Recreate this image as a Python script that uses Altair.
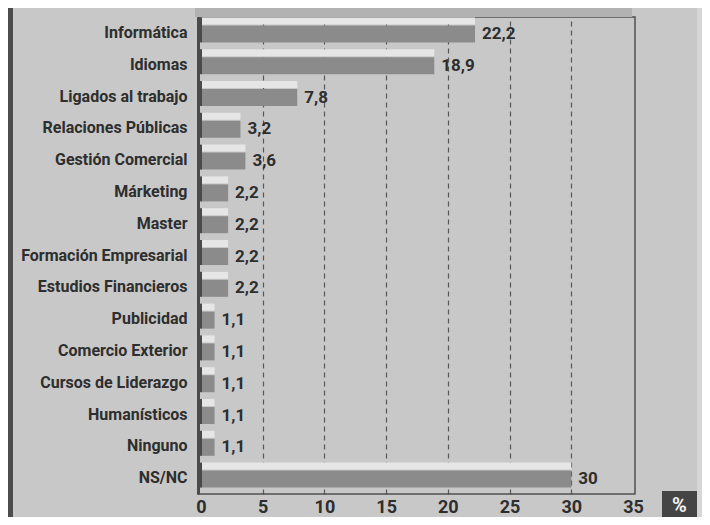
import altair as alt
import pandas as pd

categories = ["Informática", "Idiomas", "Ligados al trabajo", "Relaciones Públicas",
              "Gestión Comercial", "Márketing", "Master", "Formación Empresarial",
              "Estudios Financieros", "Publicidad", "Comercio Exterior",
              "Cursos de Liderazgo", "Humanísticos", "Ninguno", "NS/NC"]
values = [22.2, 18.9, 7.8, 3.2, 3.6, 2.2, 2.2, 2.2, 2.2, 1.1, 1.1, 1.1, 1.1, 1.1, 30]
x_ticks = [0, 5, 10, 15, 20, 25, 30, 35]

labels = [(str(int(v)) if float(v).is_integer() else str(v)).replace(".", ",") for v in values]
df = pd.DataFrame({"cat": categories, "v": values, "lab": labels})
one = pd.DataFrame({"a": [0]})

FONT = "Roboto, Liberation Sans, sans-serif"
BG = "#c8c8c8"
DARK = "#2e2e2e"

W, H = 437, 477
TOP, BOTTOM = 9, 23

xscale = alt.Scale(domain=[-0.24, 35.16], nice=False, zero=False)
yscale = alt.Scale(paddingInner=0, paddingOuter=0)

base = alt.Chart(df)

y_enc = alt.Y("cat:N", sort=categories, scale=yscale,
              axis=alt.Axis(title=None, labelFont=FONT, labelFontSize=16,
                            labelFontWeight="bold", labelColor=DARK, labelPadding=11,
                            ticks=False, domain=True, domainColor="#4a4a4a",
                            domainWidth=3, labelLimit=300))
x_enc = alt.X("v:Q", scale=xscale,
              axis=alt.Axis(title=None, values=x_ticks, labelFont=FONT, labelFontSize=18,
                            labelFontWeight="bold", labelColor=DARK, labelPadding=4,
                            ticks=False, domain=False, grid=True, gridColor="#4a4a4a",
                            gridDash=[5, 4], gridWidth=1.2,
                            gridOpacity=alt.condition("datum.value == 0 || datum.value == 35",
                                                      alt.value(0), alt.value(0.9))))

top_strip = alt.Chart(one).mark_rect(color="#b2b2b2").encode(
    x=alt.value(-3), x2=alt.value(434), y=alt.value(-9), y2=alt.value(0))

left_strip = alt.Chart(one).mark_rect(color="#4c4c4c", clip=False).encode(
    x=alt.value(-190), x2=alt.value(-185), y=alt.value(-TOP), y2=alt.value(H + BOTTOM))

right_strip = alt.Chart(one).mark_rect(color="#d6d6d6", clip=False).encode(
    x=alt.value(W + 62), x2=alt.value(W + 67), y=alt.value(-TOP), y2=alt.value(H + BOTTOM))

highlight = base.mark_bar(color="#e6e6e6", height=7, yOffset=-12).encode(
    x=x_enc, y=y_enc)

bars = base.mark_bar(color="#8b8b8b", height=17, yOffset=1).encode(
    x="v:Q", y=alt.Y("cat:N", sort=categories))

cap = base.mark_bar(color="#4a4a4a", height=25, yOffset=-3).encode(
    x=alt.value(-1), x2=alt.value(4), y=alt.Y("cat:N", sort=categories))

text = base.mark_text(align="left", baseline="middle", dx=7, dy=1, font=FONT,
                      fontSize=17, fontWeight="bold", color=DARK).encode(
    x="v:Q", y=alt.Y("cat:N", sort=categories), text="lab:N")

pct_box = alt.Chart(one).mark_rect(color="#454545").encode(
    x=alt.value(W + 27), x2=alt.value(W + 62), y=alt.value(H - 3), y2=alt.value(H + BOTTOM))

pct_text = alt.Chart(one).mark_text(text="%", font=FONT, fontSize=20, fontWeight="bold",
                                    color="#f2f2f2", baseline="middle", align="center").encode(
    x=alt.value(W + 44.5), y=alt.value(H + 12))

chart = alt.layer(top_strip, left_strip, right_strip, highlight, bars, cap, text,
                  pct_box, pct_text).properties(
    width=W, height=H,
    autosize=alt.AutoSizeParams(type="none"),
    padding={"left": 190, "top": TOP, "right": 67, "bottom": BOTTOM},
    background=BG,
).configure_view(stroke="#505050", strokeWidth=1.5)

chart.save("out.html", embed_options={"renderer": "svg", "actions": False})
